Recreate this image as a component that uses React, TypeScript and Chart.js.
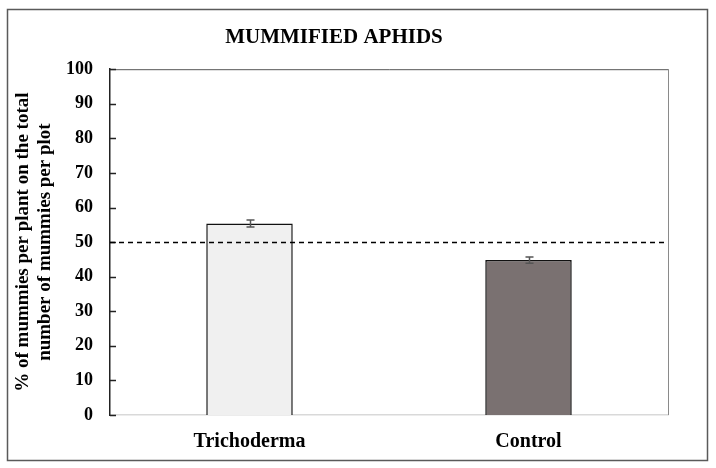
import React, { useEffect, useRef } from "react";
import { Chart, registerables } from "chart.js";

Chart.register(...registerables);

const categories = ["Trichoderma", "Control"];
const values = [55.4, 44.8];
const errors = [1.0, 0.9];
const barColors = ["#f0f0f0", "#7a7171"];
const referenceLine = 50;
const chartTitle = "MUMMIFIED APHIDS";
const yTitle = ["% of mummies per plant on the total", "number of mummies per plot"];

const FONT = "'Liberation Serif', 'Times New Roman', serif";

const decorPlugin = {
  id: "decor",
  beforeDraw(chart: any) {
    const { ctx } = chart;
    ctx.save();
    ctx.fillStyle = "#ffffff";
    ctx.fillRect(0, 0, chart.width, chart.height);
    ctx.strokeStyle = "#5a5a5a";
    ctx.lineWidth = 1.5;
    ctx.strokeRect(7.5, 9.5, 700, 451);
    ctx.restore();
  },
  afterDatasetsDraw(chart: any) {
    const { ctx, chartArea, scales } = chart;
    const y = scales.y;
    ctx.save();
    // top and right plot border
    ctx.strokeStyle = "#555555";
    ctx.lineWidth = 1;
    ctx.beginPath();
    ctx.moveTo(chartArea.left, chartArea.top + 0.5);
    ctx.lineTo(chartArea.right + 0.5, chartArea.top + 0.5);
    ctx.stroke();
    ctx.strokeStyle = "#8a8a8a";
    ctx.beginPath();
    ctx.moveTo(chartArea.right + 0.5, chartArea.top);
    ctx.lineTo(chartArea.right + 0.5, chartArea.bottom);
    ctx.stroke();
    // inward y ticks
    ctx.strokeStyle = "#222222";
    ctx.lineWidth = 1.5;
    y.ticks.forEach((t: any) => {
      const py = Math.round(y.getPixelForValue(t.value)) + 0.5;
      ctx.beginPath();
      ctx.moveTo(chartArea.left, py);
      ctx.lineTo(chartArea.left + 6, py);
      ctx.stroke();
    });
    // dashed reference line
    const ry = Math.round(y.getPixelForValue(referenceLine)) + 0.5;
    ctx.strokeStyle = "#000000";
    ctx.lineWidth = 1.5;
    ctx.setLineDash([5, 4]);
    ctx.beginPath();
    ctx.moveTo(chartArea.left, ry);
    ctx.lineTo(chartArea.right, ry);
    ctx.stroke();
    ctx.setLineDash([]);
    // error bars
    const meta = chart.getDatasetMeta(0);
    ctx.strokeStyle = "#555555";
    ctx.lineWidth = 1.5;
    meta.data.forEach((bar: any, i: number) => {
      const x = Math.round(bar.x) + 0.5;
      const top = y.getPixelForValue(values[i] + errors[i]);
      const bot = y.getPixelForValue(values[i] - errors[i]);
      ctx.beginPath();
      ctx.moveTo(x, top);
      ctx.lineTo(x, bot);
      ctx.moveTo(x - 4, top);
      ctx.lineTo(x + 4, top);
      ctx.moveTo(x - 4, bot);
      ctx.lineTo(x + 4, bot);
      ctx.stroke();
    });
    ctx.restore();
  },
};

export default function App() {
  const ref = useRef<HTMLCanvasElement | null>(null);
  useEffect(() => {
    document.body.style.margin = "0";
    const canvas = ref.current!;
    const chart = new Chart(canvas, {
      type: "bar",
      data: {
        labels: categories,
        datasets: [
          {
            data: values,
            backgroundColor: barColors,
            borderColor: "#111111",
            borderWidth: 1.5,
            barPercentage: 0.31,
            categoryPercentage: 1,
          },
        ],
      },
      options: {
        animation: false,
        responsive: false,
        devicePixelRatio: 1,
        layout: { padding: { left: 0, right: 48, top: 0, bottom: 0 } },
        plugins: {
          legend: { display: false },
          tooltip: { enabled: false },
          title: {
            display: true,
            text: chartTitle,
            color: "#000000",
            font: { family: FONT, size: 21, weight: "bold", lineHeight: 1.2 },
            padding: { top: 25, bottom: 19 },
          },
        },
        scales: {
          x: {
            grid: { display: false, drawTicks: false },
            border: { color: "#d9d9d9", width: 1.5 },
            ticks: {
              color: "#000000",
              padding: 15,
              font: { family: FONT, size: 20, weight: "bold", lineHeight: 1.2 },
            },
            afterFit(scale: any) {
              scale.height = 53;
            },
          },
          y: {
            min: 0,
            max: 100,
            grid: { display: false, drawTicks: false },
            border: { color: "#222222", width: 1.5 },
            ticks: {
              stepSize: 10,
              color: "#000000",
              padding: 17,
              font: { family: FONT, size: 18, weight: "bold" },
            },
            title: {
              display: true,
              text: yTitle,
              color: "#000000",
              padding: { top: 12, bottom: 0 },
              font: { family: FONT, size: 19, weight: "bold", lineHeight: 1.15 },
            },
            afterFit(scale: any) {
              scale.width = 110;
            },
          },
        },
      },
      plugins: [decorPlugin],
    });
    return () => chart.destroy();
  }, []);
  return (
    <div style={{ position: "absolute", left: 0, top: 0 }}>
      <canvas ref={ref} width={716} height={468} style={{ display: "block" }} />
    </div>
  );
}
